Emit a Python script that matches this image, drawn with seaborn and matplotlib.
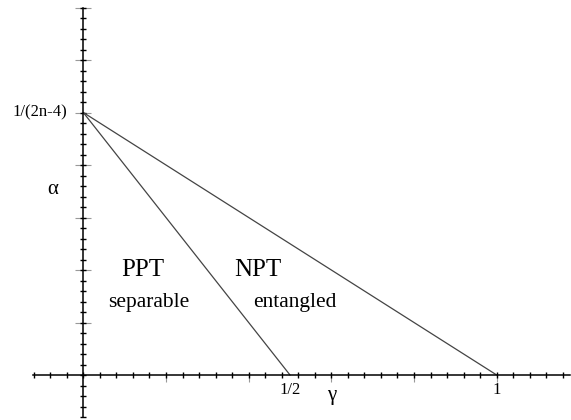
import numpy as np
import pandas as pd
import matplotlib
matplotlib.use("Agg")
import matplotlib.pyplot as plt
import seaborn as sns
from matplotlib.ticker import FixedLocator

# ---- data ----
apex_alpha = 1.0                     # alpha = 1/(2n-4) (normalised)
ppt_gamma = [0.0, 0.5]               # PPT boundary
ppt_alpha = [1.0, 0.0]
npt_gamma = [0.0, 1.0]               # NPT boundary
npt_alpha = [1.0, 0.0]
x_tick_vals = [0.5, 1.0]
x_tick_labels = ["1/2", "1"]
y_tick_vals = [1.0]
y_tick_labels = ["1/(2n-4)"]

sns.set_style("white")
plt.rcParams['font.family'] = ['Liberation Serif', 'DejaVu Serif']
plt.rcParams['text.color'] = 'black'

fig = plt.figure(figsize=(5.71, 4.2), dpi=100)
ax = fig.add_axes([0, 0, 1, 1])
ax.set_facecolor("white")

df1 = pd.DataFrame({"gamma": ppt_gamma, "alpha": ppt_alpha})
df2 = pd.DataFrame({"gamma": npt_gamma, "alpha": npt_alpha})
sns.lineplot(data=df1, x="gamma", y="alpha", ax=ax, color="#444444", lw=0.9, sort=False)
sns.lineplot(data=df2, x="gamma", y="alpha", ax=ax, color="#444444", lw=0.9, sort=False)

ax.set_xlim(-0.2015, 1.1797)
ax.set_ylim(-0.1714, 1.4286)

for s in ["top", "right"]:
    ax.spines[s].set_visible(False)
ax.spines["left"].set_position(("data", 0))
ax.spines["bottom"].set_position(("data", 0))
ax.spines["bottom"].set_bounds(-0.121, 1.177)
ax.spines["left"].set_bounds(-0.16, 1.40)
for s in ["left", "bottom"]:
    ax.spines[s].set_color("black")
    ax.spines[s].set_linewidth(1.1)

x_major = [0.2 * i for i in range(1, 6)]
x_minor = [0.04 * i for i in range(-3, 30)]
y_major = [0.2 * i for i in range(1, 8)]
y_minor = [0.04 * i for i in range(-4, 36)]
ax.xaxis.set_major_locator(FixedLocator(x_major))
ax.xaxis.set_minor_locator(FixedLocator(x_minor))
ax.yaxis.set_major_locator(FixedLocator(y_major))
ax.yaxis.set_minor_locator(FixedLocator(y_minor))
ax.xaxis.remove_overlapping_locs = False
ax.yaxis.remove_overlapping_locs = False
ax.tick_params(which="both", bottom=True, left=True, top=False, right=False,
               labelbottom=False, labelleft=False)
ax.tick_params(which="minor", direction="inout", length=5, width=1.0, color="black")
ax.tick_params(axis="x", which="major", direction="out", length=5, width=0.8, color="#999999")
ax.tick_params(axis="y", which="major", direction="inout", length=12, width=0.8, color="#999999")
ax.set_xlabel("")
ax.set_ylabel("")

# tick labels as text
for v, lab in zip(x_tick_vals, x_tick_labels):
    ax.text(v, -0.058, lab, ha="center", va="center", fontsize=12)
for v, lab in zip(y_tick_vals, y_tick_labels):
    ax.text(-0.039, v, lab, ha="right", va="center", fontsize=12)

ax.text(0.6, -0.078, "γ", ha="center", va="center", fontsize=15)
ax.text(-0.073, 0.705, "α", ha="center", va="center", fontsize=15)

ax.text(0.144, 0.40, "PPT", ha="center", va="center", fontsize=18)
ax.text(0.159, 0.277, "separable", ha="center", va="center", fontsize=15.5)
ax.text(0.422, 0.40, "NPT", ha="center", va="center", fontsize=18)
ax.text(0.512, 0.277, "entangled", ha="center", va="center", fontsize=15.5)

fig.savefig("out.png", dpi=100, facecolor="white")
